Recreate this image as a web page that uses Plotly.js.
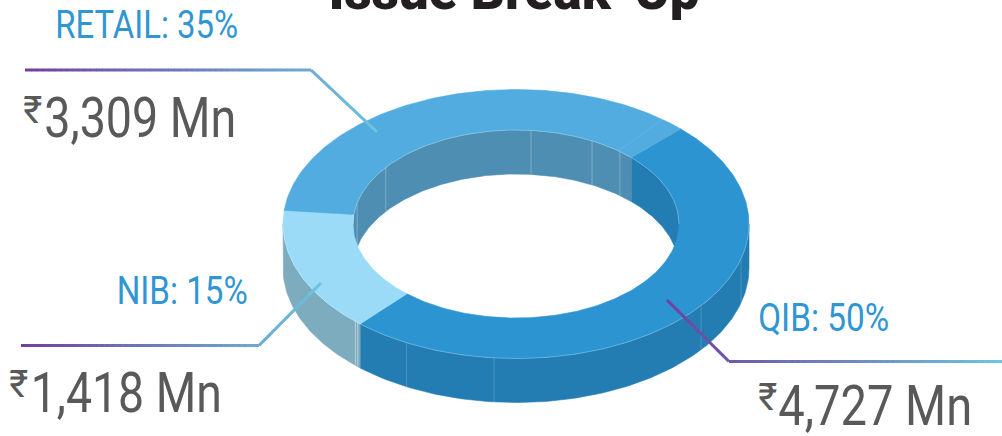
<!DOCTYPE html>
<html>
<head>
<meta charset="utf-8">
<script src="https://cdn.plot.ly/plotly-3.0.1.min.js"></script>
<style>html,body{margin:0;padding:0;background:#fff;overflow:hidden}#chart{width:1002px;height:436px}</style>
</head>
<body>
<div id="chart"></div>
<script>
// ---- data ----
var titleText = 'Issue Break-Up';
var categories = ['QIB', 'NIB', 'RETAIL'];
var shares = [50, 15, 35];
var amounts = ['4,727', '1,418', '3,309'];
var unit = 'Mn';
var rupee = '₹';

// ---- styles ----
var topColors  = {QIB:'#2D94D2', NIB:'#9BDBF8', RETAIL:'#52ACE0'};
var wallColors = {QIB:'#237DB3', NIB:'#7EACBF', RETAIL:'#4D8EB2'};
var accent = '#2F96D3', amountColor = '#595959';

// ---- geometry of the ring on the pixel-like axes ----
var cx = 516, cy = 224, rxO = 233, ryO = 134.5, rxI = 163, ryI = 94, depth = 44, startAngle = 44.5;
function px(rx, a){ return cx + rx*Math.sin(a*Math.PI/180); }
function py(ry, a, d){ return cy - ry*Math.cos(a*Math.PI/180) + (d||0); }
// slight foreshortening of the drawn ring, as in a perspective view
function warp(t){ return t - 1 + 1.8*Math.cos((t-78)*Math.PI/180); }
function range(a, b){ var r = [], n = Math.max(2, Math.ceil(Math.abs(b-a))); for (var i=0;i<=n;i++) r.push(a+(b-a)*i/n); return r; }
function poly(xs, ys, color){
  return {type:'scatter', mode:'lines', x:xs, y:ys, fill:'toself', fillcolor:color,
          line:{color:color, width:0.6}, hoverinfo:'skip', showlegend:false};
}
function stroke(xs, ys, color, w){
  return {type:'scatter', mode:'lines', x:xs, y:ys, line:{color:color, width:w||1}, hoverinfo:'skip', showlegend:false};
}
function band(rx, ry, a, b, color){
  var arc = range(a, b), xs = [], ys = [];
  arc.forEach(function(t){ xs.push(px(rx,t)); ys.push(py(ry,t)); });
  arc.slice().reverse().forEach(function(t){ xs.push(px(rx,t)); ys.push(py(ry,t,depth)); });
  xs.push(xs[0]); ys.push(ys[0]);
  return poly(xs, ys, color);
}
function overlap(a, b, lo, hi){
  var out = [];
  [-360, 0, 360].forEach(function(k){
    var s = Math.max(a, lo+k), e = Math.min(b, hi+k);
    if (e > s) out.push([s, e]);
  });
  return out;
}

var slices = [], acc = startAngle, total = shares.reduce(function(p,c){return p+c;},0);
categories.forEach(function(c, i){
  var sweep = shares[i]/total*360;
  slices.push({name:c, a:warp(acc), b:warp(acc+sweep)}); acc += sweep;
});

var traces = [];
// walls
slices.forEach(function(s){
  overlap(s.a, s.b, 270, 450).forEach(function(r){ traces.push(band(rxI, ryI, r[0], r[1], wallColors[s.name])); });
  overlap(s.a, s.b, 90, 270).forEach(function(r){ traces.push(band(rxO, ryO, r[0], r[1], wallColors[s.name])); });
});
// faint panel seams on the walls
var seamAnglesOuter = [105, 127.4, 185.4, 208];
var seamAnglesPale = [222.8, 223.6];
var seamAnglesInner = [5.3, 27.8, 39.6, 307, 283];
seamAnglesOuter.forEach(function(a){
  traces.push(stroke([px(rxO,a),px(rxO,a)],[py(ryO,a),py(ryO,a,depth)], 'rgba(255,255,255,0.18)', 1));
});
seamAnglesPale.forEach(function(a){
  traces.push(stroke([px(rxO,a),px(rxO,a)],[py(ryO,a),py(ryO,a,depth)], 'rgba(255,255,255,0.55)', 0.8));
});
seamAnglesInner.forEach(function(a){
  traces.push(stroke([px(rxI,a),px(rxI,a)],[py(ryI,a),py(ryI,a,depth)], 'rgba(255,255,255,0.28)', 1));
});
// top faces
slices.forEach(function(s){
  var arc = range(s.a, s.b), xs = [], ys = [];
  arc.forEach(function(t){ xs.push(px(rxO,t)); ys.push(py(ryO,t)); });
  arc.slice().reverse().forEach(function(t){ xs.push(px(rxI,t)); ys.push(py(ryI,t)); });
  xs.push(xs[0]); ys.push(ys[0]);
  traces.push(poly(xs, ys, topColors[s.name]));
});
// light edge between the top face and the walls
var edgeO = range(90, 270), edgeI = range(270, 450);
traces.push(stroke(edgeO.map(function(t){return px(rxO,t);}), edgeO.map(function(t){return py(ryO,t);}), 'rgba(255,255,255,0.3)', 0.8));
traces.push(stroke(edgeI.map(function(t){return px(rxI,t);}), edgeI.map(function(t){return py(ryI,t);}), 'rgba(255,255,255,0.3)', 0.8));
// faint seam on the top of RETAIL
traces.push(stroke([px(rxI,39),px(rxO,39)],[py(ryI,39),py(ryO,39)], 'rgba(255,255,255,0.1)', 1));

// ---- gradient leader lines, split into short shapes ----
var leaders = {
  RETAIL:[[25,70],[311,70],[377,132]],
  NIB:[[21,345.5],[259,345.5],[321,283]],
  QIB:[[667,300],[729,361.5],[1002,361.5]]
};
var purple = [112,64,160], cyan = [108,197,222];
function mix(f){ return 'rgb(' + purple.map(function(p,i){ return Math.round(p+(cyan[i]-p)*f); }).join(',') + ')'; }
var shapes = [];
categories.forEach(function(c){
  var pts = leaders[c], x0 = pts[0][0], x1 = pts[pts.length-1][0];
  for (var k=0;k<pts.length-1;k++){
    var A = pts[k], B = pts[k+1], n = Math.ceil(Math.abs(B[0]-A[0])/6);
    for (var j=0;j<n;j++){
      var f0=j/n, f1=(j+1)/n, xa=A[0]+(B[0]-A[0])*f0, xb=A[0]+(B[0]-A[0])*f1;
      var ext = j<n-1 ? 0.5/(B[0]-A[0]) : 0;
      shapes.push({type:'line', xref:'x', yref:'y', x0:xa, y0:A[1]+(B[1]-A[1])*f0, x1:A[0]+(B[0]-A[0])*(f1+ext), y1:A[1]+(B[1]-A[1])*(f1+ext),
        line:{color:mix(((xa+xb)/2-x0)/(x1-x0)), width:3}});
    }
  }
});

// ---- texts: [text, left, right, baseline, size, color] ----
var texts = [
  [categories[2]+': '+shares[2]+'%', 55, 238, 37, 38, accent],
  [categories[1]+': '+shares[1]+'%', 116, 247, 303, 38, accent],
  [categories[0]+': '+shares[0]+'%', 758, 889, 330, 38, accent],
  [amounts[2]+' '+unit, 44, 236, 134, 55, amountColor],
  [amounts[1]+' '+unit, 31, 222, 409, 55, amountColor],
  [amounts[0]+' '+unit, 778, 972, 422, 55, amountColor],
  [rupee, 23, 42, 122, 38, amountColor],
  [rupee, 9, 28, 396, 38, amountColor],
  [rupee, 758, 777, 409, 38, amountColor]
];
var annotations = texts.map(function(t){
  return {text:t[0], xref:'x', yref:'y', x:(t[1]+t[2])/2, y:t[3], yshift:-t[4]*0.30, xanchor:'center', yanchor:'bottom', showarrow:false,
          borderpad:0, font:{family:'Roboto', size:t[4], color:t[5]}};
});

var layout = {
  width:1002, height:436, margin:{l:0,r:0,t:0,b:0}, autosize:false,
  paper_bgcolor:'#fff', plot_bgcolor:'#fff', showlegend:false,
  title:{text:titleText, x:514/1002, xanchor:'center', y:1-9/436, yanchor:'bottom', font:{family:'Roboto', size:53, weight:900, color:'#231F20'}},
  xaxis:{range:[0,1002], visible:false, fixedrange:true},
  yaxis:{range:[436,0], visible:false, fixedrange:true},
  shapes:shapes, annotations:annotations
};
Plotly.newPlot('chart', traces, layout, {displayModeBar:false, staticPlot:true}).then(function(){
  document.querySelectorAll('.annotation').forEach(function(g){
    var i = +g.getAttribute('data-index'), t = texts[i], n = g.querySelector('.annotation-text');
    if (!n) return;
    n.setAttribute('textLength', t[2]-t[1]);
    n.setAttribute('lengthAdjust', 'spacingAndGlyphs');
  });
});
</script>
</body>
</html>
